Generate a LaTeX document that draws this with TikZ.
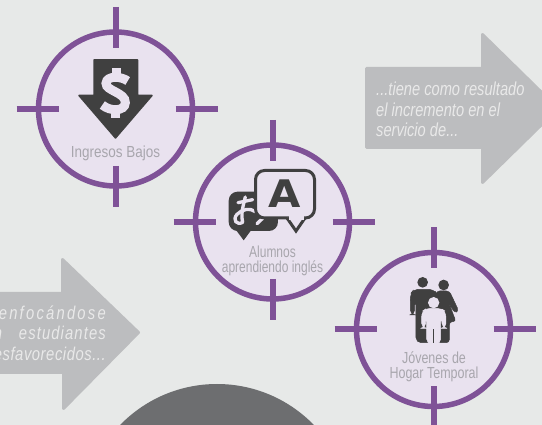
\documentclass[tikz,border=0pt]{standalone}
\usepackage{fontspec}
\setmainfont{Liberation Sans}
\newfontfamily\labfont{Liberation Sans}[FakeStretch=0.78]
\newfontfamily\widerLS{Liberation Sans}[FakeStretch=0.80,LetterSpace=12]
\newfontfamily\wideLS{Liberation Sans}[FakeStretch=0.80,LetterSpace=6]
\newfontfamily\midLS{Liberation Sans}[FakeStretch=0.80,LetterSpace=3]
\newfontfamily\iconfont{DejaVu Sans}
\definecolor{bgc}{HTML}{E7E9E8}
\definecolor{ringfill}{HTML}{E9E2EF}
\definecolor{ringc}{HTML}{7F5297}
\definecolor{iconc}{HTML}{404040}
\definecolor{labc}{HTML}{A8A6AD}
\definecolor{arrowc}{HTML}{BCBDBF}
\definecolor{arrowtxt}{HTML}{E9E9E9}
\definecolor{discc}{HTML}{6D6E70}
\tikzset{
  ringshape/.style={circle,draw=ringc,fill=ringfill,line width=5.5pt,minimum size=154pt,inner sep=0pt},
  tick/.style={draw=ringc,line width=6pt},
  iconfill/.style={fill=iconc,draw=iconc,line join=round},
  lightfill/.style={fill=ringfill,draw=ringfill,line join=round},
  ringlabel/.style={font=\labfont\fontsize{16}{16}\selectfont,text=labc,inner sep=0pt,anchor=center},
  arrowshape/.style={fill=arrowc,draw=arrowc,line width=3pt,line join=round},
  arrowlabel/.style={font=\labfont\itshape\fontsize{18.8}{20}\selectfont,text=arrowtxt,inner sep=0pt},
  arrowlabelwider/.style={font=\widerLS\itshape\fontsize{18.5}{20}\selectfont,text=arrowtxt,inner sep=0pt},
  arrowlabelwide/.style={font=\wideLS\itshape\fontsize{18.5}{20}\selectfont,text=arrowtxt,inner sep=0pt},
  arrowlabelmid/.style={font=\midLS\itshape\fontsize{18.5}{20}\selectfont,text=arrowtxt,inner sep=0pt}
}
\newcommand{\crosshair}[3]{%
  \node[ringshape] (#3) at (#1,#2) {};
  \draw[tick] (#1,#2-102) -- (#1,#2-61);
  \draw[tick] (#1,#2+57) -- (#1,#2+98);
  \draw[tick] (#1-99,#2) -- (#1-57,#2);
  \draw[tick] (#1+60,#2) -- (#1+102,#2);
}
\begin{document}
\begin{tikzpicture}[x=1pt,y=-1pt]
\useasboundingbox (0,0) rectangle (542,425);
\clip (0,0) rectangle (542,425);
\fill[bgc] (0,0) rectangle (542,425);
% disc
\fill[discc] (217,519) circle (135);
% arrows
\path[arrowshape] (366.5,68.5) -- (482.5,68.5) -- (482.5,34.5) -- (558,108.5) -- (482.5,182.5) -- (482.5,147.5) -- (366.5,147.5) -- cycle;
\path[arrowshape] (-10,293.5) -- (62.5,293.5) -- (62.5,259.5) -- (138.5,332.5) -- (63.5,408.5) -- (63.5,372.5) -- (-10,372.5) -- cycle;
% rings
\crosshair{115.5}{109}{ringA}
\crosshair{272.5}{222}{ringB}
\crosshair{433.5}{329.5}{ringC}
% dollar arrow icon
\path[iconfill,line width=1.5pt] (94,60) -- (137.5,60) -- (137.5,95.5) -- (152,95.5) -- (115.5,138) -- (79,95.5) -- (94,95.5) -- cycle;
\begin{scope}[shift={(75,55)}]
\begin{scope}[x=.3333pt,y=-.3333pt]
\draw[ringfill,line width=9pt] (158,78) .. controls (140,64) and (95,60) .. (93,85) .. controls (92,108) and (152,112) .. (151,143) .. controls (150,170) and (105,170) .. (82,150);
\fill[ringfill] (110,40) rectangle (137,70);
\fill[ringfill] (108,160) rectangle (135,190);
\end{scope}
\end{scope}
% speech bubbles
\begin{scope}[shift={(222,165)}]
\begin{scope}[x=.3333pt,y=-.3333pt]
\fill[iconc,rounded corners=9pt] (20,80) rectangle (168,198);
\fill[iconc] (42,195) -- (65,226) -- (88,195) -- cycle;
\draw[ringfill,line width=3.3pt,line cap=round] (48,113) -- (92,104);
\draw[ringfill,line width=3.3pt,line cap=round] (70,96) .. controls (64,120) and (56,145) .. (62,172);
\draw[ringfill,line width=3.3pt,line cap=round] (62,172) .. controls (45,182) and (30,165) .. (45,148) .. controls (60,132) and (85,128) .. (100,140);
\draw[ringfill,line width=3.3pt,line cap=round] (105,176) -- (122,160);
\end{scope}
\end{scope}
\draw[fill=ringfill,draw=iconc,line width=3pt,rounded corners=9pt] (255.5,170.5) rectangle (314.5,218);
\draw[fill=ringfill,draw=iconc,line width=3pt,line join=miter] (287,218) -- (296,231) -- (305,218);
\draw[ringfill,line width=3.4pt] (288.5,218) -- (303.5,218);
\node[font=\iconfont\bfseries\fontsize{38}{38}\selectfont,text=iconc,inner sep=0pt] (letterA) at (285,194) {\scalebox{1.1}[1]{A}};
% family
\begin{scope}[shift={(330,220)}]
\begin{scope}[x=.3333pt,y=-.3333pt]
\fill[iconc] (278,187) circle (16);
\fill[iconc] (341,195) circle (16);
\path[iconfill,line width=.5pt,rounded corners=3pt] (320,213) -- (358,213) -- (386,272) -- (374,279) -- (355,245) -- (378,305) -- (358,305) -- (358,368) -- (315,368) -- (315,260) -- cycle;
\path[iconfill,line width=.5pt,rounded corners=5pt] (241,222) -- (252,208) -- (310,208) -- (325,225) -- (325,368) -- (258,368) -- (258,240) -- (254,240) -- (254,285) -- (241,285) -- cycle;
\path[lightfill,line width=.5pt,rounded corners=5pt] (275,325) -- (275,275) -- (290,265) -- (332,265) -- (348,275) -- (348,325) -- (336,325) -- (336,290) -- (332,290) -- (332,372) -- (290,372) -- (290,290) -- (287,290) -- (287,325) -- cycle;
\fill[ringfill] (311,248) circle (17);
\draw[iconc,line width=.6pt] (311,328) -- (311,368);
\end{scope}
\end{scope}
% ring labels
\node[ringlabel] (t1) at (115.5,153) {\scalebox{1.08}[1]{Ingresos Bajos}};
\node[ringlabel] (t2a) at (272.5,252) {\scalebox{.96}[1]{Alumnos}};
\node[ringlabel] (t2b) at (272.5,268) {\scalebox{.96}[1]{aprendiendo inglés}};
\node[ringlabel] (t3a) at (434,358) {Jóvenes de};
\node[ringlabel] (t3b) at (434,374) {Hogar Temporal};
% arrow labels
\node[arrowlabel,anchor=west] (r1) at (376,89) {...tiene como resultado};
\node[arrowlabel,anchor=west] (r2) at (376,110) {el incremento en el};
\node[arrowlabel,anchor=west] (r3) at (376,130) {servicio de...};
\node[arrowlabelwider,anchor=east] (l1) at (106,313) {...enfocándose};
\node[arrowlabelwide,anchor=east] (l2) at (106,333) {en\hspace{17pt}estudiantes};
\node[arrowlabelmid,anchor=east] (l3) at (106,354) {desfavorecidos...};
\end{tikzpicture}
\end{document}
